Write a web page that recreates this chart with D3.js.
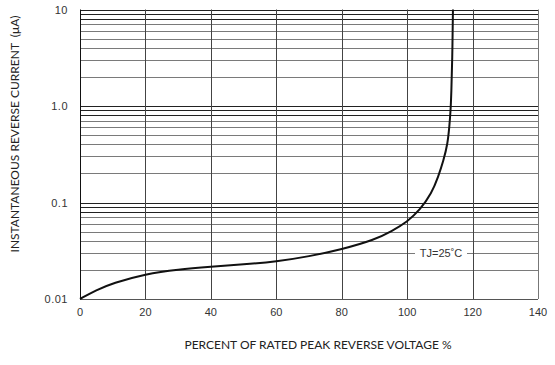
<!DOCTYPE html>
<html lang="en">
<head>
  <meta charset="UTF-8" />
  <title>Reverse Current vs Percent of Rated Peak Reverse Voltage</title>
  <script src="https://cdn.jsdelivr.net/npm/d3@7"></script>
  <style>
    body { margin: 0; background: #fff; }
    svg { display: block; }
    .tick-label { font-family: "Liberation Sans", Arial, sans-serif; font-size: 11px; fill: #333; }
    .axis-title { font-family: Lato, "Open Sans", sans-serif; fill: #222; }
  </style>
</head>
<body>
  <div id="chart"></div>
  <script>
    // Curve (x in %, y in uA)
    const voltagePct = [0, 5, 10, 20, 30, 40, 50, 60, 70, 80, 90, 95.3, 100, 103.9, 107.5, 109.5, 111.1, 112.4, 112.9, 113.3, 113.5, 113.8, 114.0];
    const currentUA  = [0.01, 0.0124, 0.0146, 0.0182, 0.0203, 0.0216, 0.0228, 0.0244, 0.0276, 0.0327, 0.041, 0.0505, 0.063, 0.0836, 0.1245, 0.185, 0.27, 0.41, 0.61, 0.91, 1.35, 3.0, 10];

    const xTicks = [0, 20, 40, 60, 80, 100, 120, 140];
    const yTicks = [0.01, 0.1, 1, 10];
    const yTickLabels = ["0.01", "0.1", "1.0", "10"];
    const decades = [0.01, 0.1, 1];
    const minorSteps = [2, 3, 4, 5, 6, 7, 8, 9];

    const width = 555, height = 365;
    const plotLeft = 80, plotRight = 538, plotTop = 9.5, plotBottom = 299;

    const svg = d3.select("#chart").append("svg")
      .attr("width", width)
      .attr("height", height);

    const x = d3.scaleLinear().domain([0, 140]).range([plotLeft, plotRight]);
    const y = d3.scaleLog().domain([0.01, 10]).range([plotBottom, plotTop]);

    // horizontal grid (log minor lines)
    const hLines = [];
    decades.forEach(d => minorSteps.forEach(m => hLines.push({ v: d * m, m })));
    yTicks.forEach(v => hLines.push({ v, m: 10 }));

    svg.append("g").selectAll("line")
      .data(hLines)
      .join("line")
        .attr("x1", plotLeft).attr("x2", plotRight)
        .attr("y1", d => Math.round(y(d.v)) + 0.5)
        .attr("y2", d => Math.round(y(d.v)) + 0.5)
        .attr("stroke", d => d.m >= 8 ? "#222" : "#7a7a7a")
        .attr("stroke-width", 1);

    // vertical grid
    svg.append("g").selectAll("line")
      .data(xTicks)
      .join("line")
        .attr("x1", d => Math.round(x(d)) + 0.5)
        .attr("x2", d => Math.round(x(d)) + 0.5)
        .attr("y1", plotTop).attr("y2", plotBottom)
        .attr("stroke", d => d === 140 ? "#777" : (d === 0 ? "#111" : "#444"))
        .attr("stroke-width", 1);

    // bottom border
    svg.append("line")
      .attr("x1", plotLeft).attr("x2", plotRight)
      .attr("y1", Math.round(y(0.01)) + 0.5).attr("y2", Math.round(y(0.01)) + 0.5)
      .attr("stroke", "#555");

    // curve
    const pts = voltagePct.map((v, i) => [v, currentUA[i]]);
    svg.append("path")
      .datum(pts)
      .attr("fill", "none")
      .attr("stroke", "#111")
      .attr("stroke-width", 2)
      .attr("d", d3.line()
        .x(d => x(d[0]))
        .y(d => y(d[1]))
        .curve(d3.curveBasis));

    // TJ label with white box over gridline
    const labelX = 441, labelY = y(0.03);
    svg.append("rect")
      .attr("x", labelX - 26).attr("y", labelY - 7)
      .attr("width", 52).attr("height", 14)
      .attr("fill", "#fff");
    svg.append("text")
      .attr("class", "tick-label")
      .attr("x", labelX).attr("y", labelY + 4)
      .attr("text-anchor", "middle")
      .text("TJ=25˚C");

    // y tick labels
    svg.append("g").selectAll("text")
      .data(yTicks)
      .join("text")
        .attr("class", "tick-label")
        .attr("x", 68)
        .attr("y", d => y(d) + 4)
        .attr("text-anchor", "end")
        .attr("letter-spacing", "0.5px")
        .text((d, i) => yTickLabels[i]);

    // x tick labels
    svg.append("g").selectAll("text")
      .data(xTicks)
      .join("text")
        .attr("class", "tick-label")
        .attr("x", d => x(d))
        .attr("y", 316)
        .attr("text-anchor", "middle")
        .text(d => d);

    // axis titles
    svg.append("text")
      .attr("class", "axis-title")
      .attr("font-size", 12)
      .attr("x", 318)
      .attr("y", 349)
      .attr("text-anchor", "middle")
      .text("PERCENT OF RATED PEAK REVERSE VOLTAGE %");

    svg.append("text")
      .attr("class", "axis-title")
      .attr("font-size", 12)
      .attr("transform", "translate(19,134) rotate(-90)")
      .attr("text-anchor", "middle")
      .style("white-space", "pre")
      .text("INSTANTANEOUS REVERSE CURRENT  (μA)");
  </script>
</body>
</html>
